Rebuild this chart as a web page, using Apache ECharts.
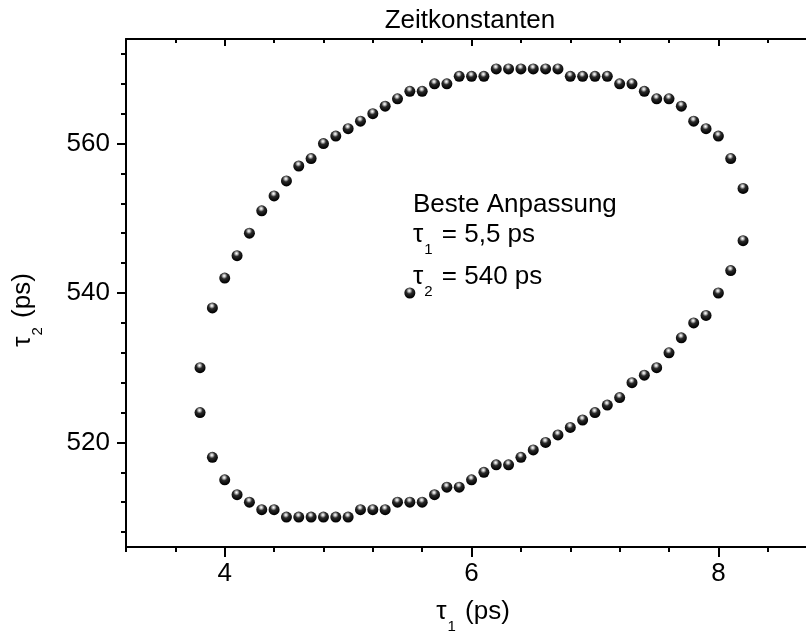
<!DOCTYPE html>
<html>
<head>
<meta charset="utf-8">
<script src="https://cdn.jsdelivr.net/npm/echarts@6/dist/echarts.min.js"></script>
<style>
  html, body { margin: 0; padding: 0; background: #ffffff; }
  #chart { width: 806px; height: 639px; }
</style>
</head>
<body>
<div id="chart"></div>
<script>
// tau1 grid (ps) of the confidence contour, shared by both branches
const contourTau1 = [3.8, 3.9, 4.0, 4.1, 4.2, 4.3, 4.4, 4.5, 4.6, 4.7, 4.8, 4.9, 5.0, 5.1, 5.2,
  5.3, 5.4, 5.5, 5.6, 5.7, 5.8, 5.9, 6.0, 6.1, 6.2, 6.3, 6.4, 6.5, 6.6, 6.7,
  6.8, 6.9, 7.0, 7.1, 7.2, 7.3, 7.4, 7.5, 7.6, 7.7, 7.8, 7.9, 8.0, 8.1, 8.2];
// upper boundary tau2 (ps)
const upperTau2 = [530, 538, 542, 545, 548, 551, 553, 555, 557, 558, 560, 561, 562, 563, 564,
  565, 566, 567, 567, 568, 568, 569, 569, 569, 570, 570, 570, 570, 570, 570,
  569, 569, 569, 569, 568, 568, 567, 566, 566, 565, 563, 562, 561, 558, 554];
// lower boundary tau2 (ps)
const lowerTau2 = [524, 518, 515, 513, 512, 511, 511, 510, 510, 510, 510, 510, 510, 511, 511,
  511, 512, 512, 512, 513, 514, 514, 515, 516, 517, 517, 518, 519, 520, 521,
  522, 523, 524, 525, 526, 528, 529, 530, 532, 534, 536, 537, 540, 543, 547];
// best fit
const bestTau1 = 5.5;
const bestTau2 = 540;

// axis ranges and ticks
const xRange = [3.2, 8.71];
const yRange = [506, 574];
const xMajorTicks = [4, 6, 8];
const xMinorTicks = [3.2, 3.6, 4.4, 4.8, 5.2, 5.6, 6.4, 6.8, 7.2, 7.6, 8.4];
const yMajorTicks = [520, 540, 560];
const yMinorTicks = [508, 512, 516, 524, 528, 532, 536, 544, 548, 552, 556, 564, 568, 572];

const titleText = 'Zeitkonstanten';
const noteTitle = 'Beste Anpassung';
const fmtDE = v => String(v).replace('.', ',');

const FONT = '"Liberation Sans", Arial, Helvetica, sans-serif';
const INK = '#000000';

const upperPoints = contourTau1.map((t, i) => [t, upperTau2[i]]);
const lowerPoints = contourTau1.map((t, i) => [t, lowerTau2[i]]);

// glossy black sphere
const sphere = {
  type: 'radial', x: 0.45, y: 0.3, r: 0.75,
  colorStops: [
    { offset: 0, color: '#ffffff' },
    { offset: 0.14, color: '#c8c8c8' },
    { offset: 0.38, color: '#2a2a2a' },
    { offset: 0.8, color: '#050505' },
    { offset: 1, color: '#000000' }
  ]
};

const richSub = {
  m: { fontSize: 26, lineHeight: 30, verticalAlign: 'top', fontFamily: FONT, color: INK },
  s: { fontSize: 15, lineHeight: 15, verticalAlign: 'top', padding: [20, 2, 0, 1], fontFamily: FONT, color: INK }
};

function baseX(extra) {
  return Object.assign({
    type: 'value', min: xRange[0], max: xRange[1], gridIndex: 0,
    splitLine: { show: false },
    axisLine: { show: false },
    axisLabel: { show: false },
    axisTick: { show: false }
  }, extra);
}
function baseY(extra) {
  return Object.assign({
    type: 'value', min: yRange[0], max: yRange[1], gridIndex: 0,
    splitLine: { show: false },
    axisLine: { show: false },
    axisLabel: { show: false },
    axisTick: { show: false }
  }, extra);
}

const chart = echarts.init(document.getElementById('chart'), null, { renderer: 'canvas' });

chart.setOption({
  backgroundColor: '#ffffff',
  animation: false,
  textStyle: { fontFamily: FONT, color: INK },
  grid: { left: 126, right: 0, top: 39, bottom: 90, containLabel: false },
  xAxis: [
    baseX({
      position: 'bottom',
      axisLine: { show: true, onZero: false, lineStyle: { color: INK, width: 2 } },
      axisTick: { show: true, inside: false, length: 10, customValues: xMajorTicks, lineStyle: { color: INK, width: 2 } },
      axisLabel: { show: true, customValues: xMajorTicks, margin: 14, fontSize: 26, fontFamily: FONT, color: INK },
      name: '{m|τ}{s|1}{m| (ps)}',
      nameLocation: 'middle',
      nameGap: 52,
      nameTextStyle: { rich: richSub, padding: [0, 0, 0, 14] }
    }),
    baseX({
      position: 'bottom',
      axisTick: { show: true, inside: false, length: 5, customValues: xMinorTicks, lineStyle: { color: INK, width: 2 } }
    }),
    baseX({
      position: 'top',
      axisLine: { show: true, onZero: false, lineStyle: { color: INK, width: 2 } },
      axisTick: { show: true, inside: true, length: 7, customValues: xMajorTicks, lineStyle: { color: INK, width: 2 } }
    }),
    baseX({
      position: 'top',
      axisTick: { show: true, inside: true, length: 4, customValues: xMinorTicks, lineStyle: { color: INK, width: 2 } }
    })
  ],
  yAxis: [
    baseY({
      position: 'left',
      axisLine: { show: true, onZero: false, lineStyle: { color: INK, width: 2 } },
      axisTick: { show: true, inside: false, length: 9, customValues: yMajorTicks, lineStyle: { color: INK, width: 2 } },
      axisLabel: { show: true, customValues: yMajorTicks, margin: 16, fontSize: 26, fontFamily: FONT, color: INK },
      name: '{m|τ}{s|2}{m| (ps)}',
      nameLocation: 'middle',
      nameRotate: 90,
      nameGap: 86,
      nameTextStyle: { rich: richSub, padding: [0, 34, 0, 0] }
    }),
    baseY({
      position: 'left',
      axisTick: { show: true, inside: false, length: 5, customValues: yMinorTicks, lineStyle: { color: INK, width: 2 } }
    })
  ],
  graphic: [
    {
      type: 'text', x: 470, y: 8,
      style: { text: titleText, fill: INK, font: '26px ' + FONT, align: 'center', textAlign: 'center', verticalAlign: 'top' }
    },
    {
      type: 'text', left: 413, top: 192,
      style: { text: noteTitle, fill: INK, font: '26px ' + FONT }
    },
    {
      type: 'text', left: 413, top: 222,
      style: { text: '{m|τ}{s|1}{m| = ' + fmtDE(bestTau1) + ' ps}', rich: richSub }
    },
    {
      type: 'text', left: 413, top: 264,
      style: { text: '{m|τ}{s|2}{m| = ' + fmtDE(bestTau2) + ' ps}', rich: richSub }
    }
  ],
  series: [
    {
      name: 'upper', type: 'scatter', xAxisIndex: 0, yAxisIndex: 0,
      data: upperPoints, symbol: 'circle', symbolSize: 11,
      itemStyle: { color: sphere, opacity: 1 }, silent: true
    },
    {
      name: 'lower', type: 'scatter', xAxisIndex: 0, yAxisIndex: 0,
      data: lowerPoints, symbol: 'circle', symbolSize: 11,
      itemStyle: { color: sphere, opacity: 1 }, silent: true
    },
    {
      name: 'best', type: 'scatter', xAxisIndex: 0, yAxisIndex: 0,
      data: [[bestTau1, bestTau2]], symbol: 'circle', symbolSize: 11,
      itemStyle: { color: sphere, opacity: 1 }, silent: true
    }
  ]
});
</script>
</body>
</html>
